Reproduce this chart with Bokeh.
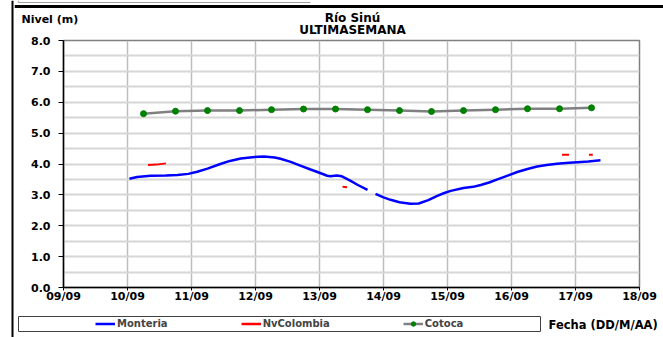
from bokeh.plotting import figure
from bokeh.layouts import row, column
from bokeh.models import Range1d, FixedTicker, Legend, LegendItem, Label
from bokeh.embed import file_html
from bokeh.resources import INLINE

nan = float("nan")

# ---- data -----------------------------------------------------------
x_ticks = [9, 10, 11, 12, 13, 14, 15, 16, 17, 18]
x_tick_labels = ["09/09", "10/09", "11/09", "12/09", "13/09",
                 "14/09", "15/09", "16/09", "17/09", "18/09"]
y_ticks = [0, 1, 2, 3, 4, 5, 6, 7, 8]
y_minor = [0.5, 1.5, 2.5, 3.5, 4.5, 5.5, 6.5, 7.5]

monteria_day = [10.03, 10.15, 10.36, 10.6, 10.78, 10.95, 11.09, 11.25, 11.45,
                11.6, 11.77, 11.95, 12.13, 12.3, 12.39, 12.55, 12.7, 12.85,
                13.02, 13.12, 13.17, 13.27, 13.35, 13.48, 13.6, 13.75, nan,
                13.875, 14.0, 14.11, 14.25, 14.42, 14.55, 14.7, 14.84, 14.95,
                15.05, 15.25, 15.4, 15.52, 15.65, 15.78, 15.95, 16.09, 16.25,
                16.4, 16.55, 16.71, 16.9, 17.03, 17.2, 17.39]
monteria_level = [3.52, 3.58, 3.62, 3.63, 3.64, 3.68, 3.75, 3.85, 4.00,
                  4.10, 4.18, 4.22, 4.24, 4.21, 4.17, 4.07, 3.95, 3.83,
                  3.70, 3.62, 3.60, 3.63, 3.60, 3.46, 3.32, 3.16, nan,
                  3.03, 2.92, 2.84, 2.76, 2.71, 2.72, 2.83, 2.97, 3.06,
                  3.13, 3.22, 3.26, 3.32, 3.40, 3.50, 3.63, 3.74, 3.84,
                  3.92, 3.97, 4.01, 4.04, 4.06, 4.08, 4.12]

nvcolombia_day = [10.32, 10.45, 10.6, nan, 13.36, 13.43, nan,
                  16.79, 16.9, nan, 17.21, 17.27]
nvcolombia_level = [3.97, 3.98, 4.02, nan, 3.26, 3.25, nan,
                    4.30, 4.30, nan, 4.30, 4.30]

cotoca_day = [10.25, 10.75, 11.25, 11.75, 12.25, 12.75, 13.25, 13.75,
              14.25, 14.75, 15.25, 15.75, 16.25, 16.75, 17.25]
cotoca_level = [5.63, 5.71, 5.73, 5.73, 5.76, 5.78, 5.78, 5.76,
                5.73, 5.70, 5.73, 5.76, 5.79, 5.79, 5.82]

series_names = ["Monteria", "NvColombia", "Cotoca"]
title_lines = ["Río Sinú", "ULTIMASEMANA"]
y_title = "Nivel (m)"
x_title = "Fecha (DD/M/AA)"

FONT = "DejaVu Sans"
BLUE, RED, GRAY, GREEN = "#0000ff", "#ff0000", "#808080", "#008000"


def blank_fig(w, h, x0, x1, y0, y1):
    f = figure(width=w, height=h, x_range=Range1d(x0, x1), y_range=Range1d(y1, y0),
               output_backend="svg", toolbar_location=None,
               x_axis_type=None, y_axis_type=None,
               min_border=0, min_border_left=0, min_border_right=0,
               min_border_top=0, min_border_bottom=0)
    f.outline_line_color = None
    f.title.visible = False
    f.frame_align = False
    return f


def label(f, x, y, s, size, align="left"):
    f.add_layout(Label(x=x, y=y, text=s, text_align=align,
                       text_baseline="middle", text_font=FONT,
                       text_font_style="bold", text_font_size=size,
                       text_color="black"))


# ---- left strip with the black frame line ---------------------------
strip = blank_fig(14, 337, 0, 14, 0, 337)
strip.segment(x0=[12], y0=[0], x1=[12], y1=[337], line_color="black", line_width=2)

# ---- header ----------------------------------------------------------
top = blank_fig(649, 36, 14, 663, 0, 36)
top.segment(x0=[14], y0=[6], x1=[663], y1=[6], line_color="black", line_width=3)
top.segment(x0=[18, 18], y0=[2, 0], x1=[310, 18], y1=[2, 2],
            line_color="#a0a0a0", line_width=1)
label(top, 21, 19, y_title, "11px")
label(top, 352, 17, title_lines[0], "12px", "center")
label(top, 352, 29, title_lines[1], "12px", "center")

# ---- main chart ------------------------------------------------------
p = figure(width=649, height=272, x_range=Range1d(9, 18), y_range=Range1d(0, 8),
           output_backend="svg", toolbar_location=None,
           min_border_left=49, min_border_right=24,
           min_border_top=4, min_border_bottom=21)
p.title.visible = False
p.frame_align = False
p.outline_line_color = GRAY
p.outline_line_width = 1.5

p.xaxis.ticker = FixedTicker(ticks=x_ticks)
p.xaxis.major_label_overrides = {t: l for t, l in zip(x_ticks, x_tick_labels)}
p.yaxis.ticker = FixedTicker(ticks=y_ticks, minor_ticks=y_minor)
p.yaxis.major_label_overrides = {t: "%.1f" % t for t in y_ticks}

for ax in (p.xaxis, p.yaxis):
    ax.axis_line_color = "black"
    ax.axis_line_width = 1.5
    ax.major_tick_line_color = "black"
    ax.major_tick_in = 0
    ax.minor_tick_line_color = None
    ax.major_label_text_font = FONT
    ax.major_label_text_font_style = "bold"
    ax.major_label_text_font_size = "11px"
    ax.major_label_text_color = "black"
p.xaxis.major_tick_out = 3
p.xaxis.major_label_standoff = -1
p.yaxis.major_tick_out = 5
p.yaxis.major_label_standoff = 8

p.xgrid.ticker = FixedTicker(ticks=x_ticks)
p.xgrid.grid_line_color = "#bdbdbd"
p.xgrid.grid_line_width = 1.5
p.ygrid.ticker = FixedTicker(ticks=y_ticks, minor_ticks=y_minor)
p.ygrid.grid_line_color = "#d6d6d6"
p.ygrid.grid_line_width = 2
p.ygrid.minor_grid_line_color = "#d6d6d6"
p.ygrid.minor_grid_line_width = 2

p.line(monteria_day, monteria_level, line_color=BLUE, line_width=2.5)
p.line(nvcolombia_day, nvcolombia_level, line_color=RED, line_width=2)
p.line(cotoca_day, cotoca_level, line_color=GRAY, line_width=2.5)
p.scatter(cotoca_day, cotoca_level, marker="circle", size=6,
          fill_color=GREEN, line_color=GREEN)

# ---- bottom: legend row ---------------------------------------------
bot = blank_fig(649, 29, 14, 663, 308, 337)
bot.quad(left=[18], right=[540], top=[316], bottom=[331],
         fill_color="white", line_color="#404040", line_width=1)
# legend-only renderers (kept outside the visible range of this strip)
lg_mon = bot.line([0, 1], [0, 0], line_color=BLUE, line_width=2.5)
lg_nv = bot.line([0, 1], [0, 0], line_color=RED, line_width=2.5)
lg_cot_l = bot.line([0, 1], [0, 0], line_color=GRAY, line_width=2.5)
lg_cot_m = bot.scatter([0], [0], marker="circle", size=6,
                       fill_color=GREEN, line_color=GREEN)
legend = Legend(items=[LegendItem(label=series_names[0], renderers=[lg_mon]),
                       LegendItem(label=series_names[1], renderers=[lg_nv]),
                       LegendItem(label=series_names[2], renderers=[lg_cot_l, lg_cot_m])],
                location=(81, 8), orientation="horizontal",
                padding=0, margin=0, spacing=73,
                glyph_width=20, glyph_height=11, label_height=11,
                label_standoff=2, label_text_font=FONT,
                label_text_font_style="bold", label_text_font_size="10px",
                background_fill_alpha=0, border_line_color=None)
bot.add_layout(legend)
label(bot, 548, 324, x_title, "11.5px")

layout = row(strip, column(top, p, bot, spacing=0), spacing=0)

open("out.html", "w").write(file_html(layout, INLINE))
